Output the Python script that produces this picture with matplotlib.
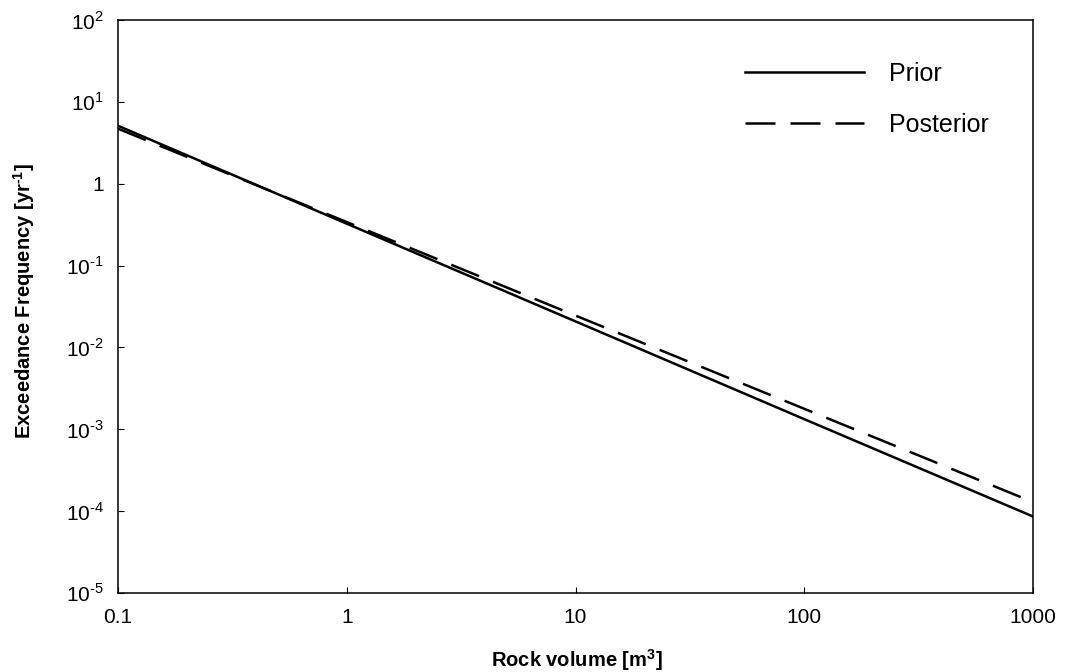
import matplotlib
matplotlib.use("Agg")
import matplotlib.pyplot as plt
from matplotlib.ticker import FixedLocator, FixedFormatter, NullLocator

plt.rcParams['font.family'] = ['Liberation Sans', 'DejaVu Sans']
plt.rcParams['mathtext.fontset'] = 'custom'
plt.rcParams['mathtext.rm'] = 'Liberation Sans'
plt.rcParams['mathtext.bf'] = 'Liberation Sans:bold'

volume = [0.1, 1, 10, 100, 1000]
prior = [5.1, 0.325, 0.0208, 0.00133, 8.6e-5]
posterior = [4.7, 0.34, 0.0245, 0.00178, 1.29e-4]

x_ticks = [0.1, 1, 10, 100, 1000]
x_labels = ['0.1', '1', '10', '100', '1000']
y_ticks = [1e-5, 1e-4, 1e-3, 1e-2, 1e-1, 1, 10, 100]
y_labels = ['10$^{\\text{-5}}$', '10$^{\\text{-4}}$', '10$^{\\text{-3}}$',
            '10$^{\\text{-2}}$', '10$^{\\text{-1}}$', '1',
            '10$^{\\text{1}}$', '10$^{\\text{2}}$']

fig = plt.figure(figsize=(10.68, 6.72), dpi=100)
ax = fig.add_axes([118 / 1068, 79 / 672, 915 / 1068, 573 / 672])

ax.plot(volume, prior, color='black', lw=1.8, label='Prior')
ax.plot(volume, posterior, color='black', lw=1.8, dashes=(12, 6), label='Posterior')

ax.set_xscale('log')
ax.set_yscale('log')
ax.set_xlim(0.1, 1000)
ax.set_ylim(1e-5, 100)

ax.xaxis.set_major_locator(FixedLocator(x_ticks))
ax.xaxis.set_major_formatter(FixedFormatter(x_labels))
ax.xaxis.set_minor_locator(NullLocator())
ax.yaxis.set_major_locator(FixedLocator(y_ticks))
ax.yaxis.set_major_formatter(FixedFormatter(y_labels))
ax.yaxis.set_minor_locator(NullLocator())

ax.tick_params(axis='both', direction='in', length=4, width=0.8, labelsize=15,
               top=False, right=False)
ax.tick_params(axis='x', pad=11)
ax.tick_params(axis='y', pad=10)
for s in ax.spines.values():
    s.set_linewidth(1.1)

ax.set_xlabel('Rock volume [m$^{\\mathregular{3}}$]', fontsize=14.5, fontweight='bold')
ax.set_ylabel('Exceedance Frequency [yr$^{\\mathregular{\u20101}}$]', fontsize=14.5, fontweight='bold')
ax.xaxis.set_label_coords(0.501, -0.094)
ax.yaxis.set_label_coords(-0.0885, 0.5096)

leg = ax.legend(loc='upper left', bbox_to_anchor=(745 / 1068, 610 / 672),
                bbox_transform=fig.transFigure, frameon=False, fontsize=18,
                borderpad=0, borderaxespad=0,
                handlelength=4.76, handletextpad=1.0, labelspacing=1.08)

fig.savefig('out.png', dpi=100)
